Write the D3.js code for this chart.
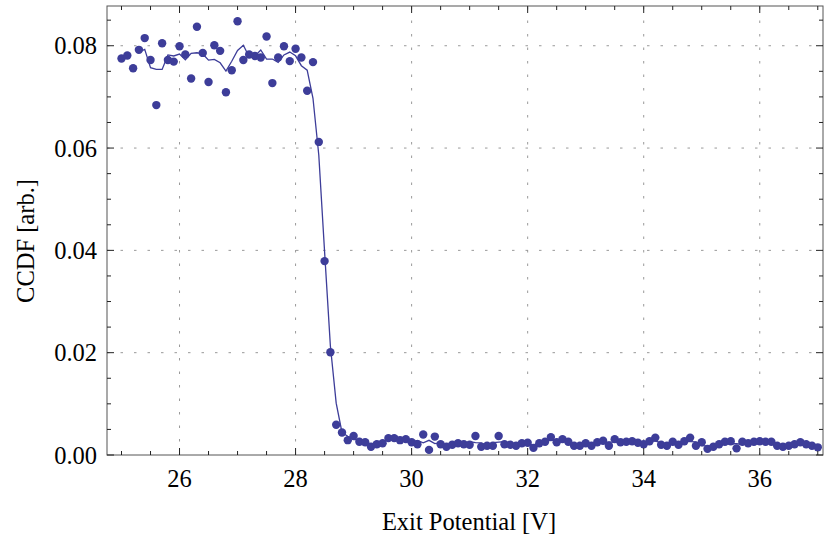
<!DOCTYPE html>
<html>
<head>
<meta charset="utf-8">
<script src="https://cdn.jsdelivr.net/npm/d3@7"></script>
<style>
  body { margin: 0; background: #fff; }
  svg { display: block; }
  text { font-family: "Liberation Serif", "Times New Roman", serif; fill: #000; }
</style>
</head>
<body>
<div class="chart"></div>
<script>
// exit potential [V], one sample every 0.1 V
const exitPotential = [
    25.0, 25.1, 25.2, 25.3, 25.4, 25.5, 25.6, 25.7, 25.8, 25.9,
    26.0, 26.1, 26.2, 26.3, 26.4, 26.5, 26.6, 26.7, 26.8, 26.9,
    27.0, 27.1, 27.2, 27.3, 27.4, 27.5, 27.6, 27.7, 27.8, 27.9,
    28.0, 28.1, 28.2, 28.3, 28.4, 28.5, 28.6, 28.7, 28.8, 28.9,
    29.0, 29.1, 29.2, 29.3, 29.4, 29.5, 29.6, 29.7, 29.8, 29.9,
    30.0, 30.1, 30.2, 30.3, 30.4, 30.5, 30.6, 30.7, 30.8, 30.9,
    31.0, 31.1, 31.2, 31.3, 31.4, 31.5, 31.6, 31.7, 31.8, 31.9,
    32.0, 32.1, 32.2, 32.3, 32.4, 32.5, 32.6, 32.7, 32.8, 32.9,
    33.0, 33.1, 33.2, 33.3, 33.4, 33.5, 33.6, 33.7, 33.8, 33.9,
    34.0, 34.1, 34.2, 34.3, 34.4, 34.5, 34.6, 34.7, 34.8, 34.9,
    35.0, 35.1, 35.2, 35.3, 35.4, 35.5, 35.6, 35.7, 35.8, 35.9,
    36.0, 36.1, 36.2, 36.3, 36.4, 36.5, 36.6, 36.7, 36.8, 36.9,
    37.0
];

// CCDF [arb.]
const ccdf = [
    0.0775, 0.0781, 0.0756, 0.0792, 0.0815, 0.0772, 0.0684, 0.0805, 0.0772, 0.0769,
    0.0799, 0.0783, 0.0736, 0.0837, 0.0786, 0.0729, 0.0801, 0.0790, 0.0709, 0.0752,
    0.0848, 0.0772, 0.0783, 0.0780, 0.0777, 0.0818, 0.0727, 0.0777, 0.0799, 0.0770,
    0.0794, 0.0777, 0.0712, 0.0768, 0.0612, 0.0379, 0.0201, 0.0059, 0.0044, 0.0029,
    0.0037, 0.0026, 0.0025, 0.0016, 0.0021, 0.0023, 0.0033, 0.0033, 0.0029, 0.0031,
    0.0025, 0.0021, 0.0040, 0.0010, 0.0036, 0.0021, 0.0016, 0.0020, 0.0023, 0.0021,
    0.0020, 0.0037, 0.0016, 0.0018, 0.0018, 0.0037, 0.0021, 0.0020, 0.0018, 0.0023,
    0.0024, 0.0014, 0.0023, 0.0026, 0.0035, 0.0025, 0.0031, 0.0026, 0.0018, 0.0018,
    0.0023, 0.0018, 0.0025, 0.0028, 0.0018, 0.0031, 0.0025, 0.0026, 0.0027, 0.0024,
    0.0021, 0.0027, 0.0034, 0.0020, 0.0018, 0.0026, 0.0020, 0.0027, 0.0034, 0.0018,
    0.0025, 0.0012, 0.0016, 0.0021, 0.0026, 0.0027, 0.0013, 0.0026, 0.0023, 0.0026,
    0.0027, 0.0026, 0.0026, 0.0018, 0.0016, 0.0018, 0.0021, 0.0025, 0.0021, 0.0018,
    0.0015
];

const xMajorTicks = [26, 28, 30, 32, 34, 36];
const yMajorTicks = [0.00, 0.02, 0.04, 0.06, 0.08];

const xLabel = "Exit Potential [V]";
const yLabel = "CCDF [arb.]";

const width = 826, height = 540;
const margin = { top: 6, right: 3, bottom: 85, left: 107 };
const color = "#3d3d99";
const frameColor = "#555";
const fontSize = "24.5px";

const svg = d3.select(".chart").append("svg")
    .attr("width", width)
    .attr("height", height);

const x = d3.scaleLinear()
    .domain([24.75, 37.09])
    .range([margin.left, width - margin.right]);
const y = d3.scaleLinear()
    .domain([0, 0.08777])
    .range([height - margin.bottom, margin.top]);

const x0 = x.range()[0], x1 = x.range()[1];
const y0 = y.range()[0], y1 = y.range()[1];

// minor ticks sit every 0.5 V and every 0.005
const xMinor = d3.range(25, 37.01, 0.5).filter(v => !xMajorTicks.includes(v));
const yMinor = d3.range(0.005, 0.086, 0.005).filter(v => Math.abs(v / 0.02 - Math.round(v / 0.02)) > 1e-6);

// grid
const grid = svg.append("g")
    .attr("stroke", "#999")
    .attr("stroke-width", 1)
    .attr("stroke-dasharray", "2.5,11");
grid.selectAll(".vgrid")
    .data(xMajorTicks).enter()
    .append("line")
    .attr("x1", d => x(d)).attr("x2", d => x(d))
    .attr("y1", y0).attr("y2", y1);
grid.selectAll(".hgrid")
    .data(yMajorTicks.filter(d => d > 0)).enter()
    .append("line")
    .attr("x1", x0).attr("x2", x1)
    .attr("y1", d => y(d)).attr("y2", d => y(d));

// data
const points = exitPotential.map((v, i) => ({ v: v, c: ccdf[i] }));

// smoothed curve: 3 point running mean of the measured values
const smooth = points.slice(3, points.length - 3).map((p, j) => {
    const i = j + 3;
    return { v: p.v, c: d3.mean(ccdf.slice(i - 1, i + 2)) };
});

svg.append("path")
    .datum(smooth)
    .attr("fill", "none")
    .attr("stroke", color)
    .attr("stroke-width", 1.3)
    .attr("d", d3.line().x(d => x(d.v)).y(d => y(d.c)));

svg.append("g")
    .selectAll("circle")
    .data(points).enter()
    .append("circle")
    .attr("cx", d => x(d.v))
    .attr("cy", d => y(d.c))
    .attr("r", 4.2)
    .attr("fill", color);

// frame
svg.append("rect")
    .attr("x", x0).attr("y", y1)
    .attr("width", x1 - x0).attr("height", y0 - y1)
    .attr("fill", "none")
    .attr("stroke", frameColor)
    .attr("stroke-width", 1);

const ticks = svg.append("g").attr("stroke", "#222").attr("stroke-width", 1);
const majorLen = 7, minorLen = 4;
function xTick(v, len) {
    ticks.append("line").attr("x1", x(v)).attr("x2", x(v)).attr("y1", y0).attr("y2", y0 - len);
    ticks.append("line").attr("x1", x(v)).attr("x2", x(v)).attr("y1", y1).attr("y2", y1 + len);
}
function yTick(v, len) {
    ticks.append("line").attr("y1", y(v)).attr("y2", y(v)).attr("x1", x0).attr("x2", x0 + len);
    ticks.append("line").attr("y1", y(v)).attr("y2", y(v)).attr("x1", x1).attr("x2", x1 - len);
}
xMajorTicks.forEach(v => xTick(v, majorLen));
xMinor.forEach(v => xTick(v, minorLen));
yMajorTicks.forEach(v => yTick(v, majorLen));
yMinor.forEach(v => yTick(v, minorLen));

// labels
svg.append("g")
    .selectAll("text")
    .data(xMajorTicks).enter()
    .append("text")
    .attr("x", d => x(d))
    .attr("y", 487)
    .attr("text-anchor", "middle")
    .style("font-size", fontSize)
    .text(d => d);

svg.append("g")
    .selectAll("text")
    .data(yMajorTicks).enter()
    .append("text")
    .attr("x", 97)
    .attr("y", d => y(d))
    .attr("dy", "0.35em")
    .attr("text-anchor", "end")
    .style("font-size", fontSize)
    .text(d => d3.format(".2f")(d));

svg.append("text")
    .attr("x", 469)
    .attr("y", 530)
    .attr("text-anchor", "middle")
    .style("font-size", fontSize)
    .text(xLabel);

svg.append("text")
    .attr("transform", "translate(34,241) rotate(-90)")
    .attr("text-anchor", "middle")
    .style("font-size", fontSize)
    .text(yLabel);
</script>
</body>
</html>
